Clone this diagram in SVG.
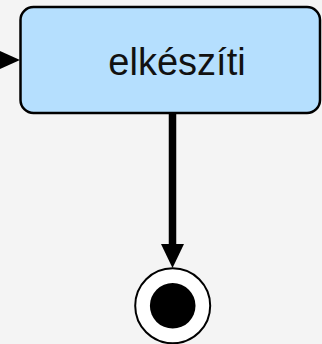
<svg xmlns="http://www.w3.org/2000/svg" width="322" height="344" viewBox="0 0 322 344">
<style>
.bg{fill:#f4f4f4}
.state{fill:#b5dffe;stroke:#000;stroke-width:2.5}
.label{font-family:"Liberation Sans",Arial,sans-serif;font-size:38px;fill:#111;text-anchor:middle}
.edge{stroke:#000;stroke-width:7.5;fill:none}
.head{fill:#000}
</style>
<rect class="bg" x="0" y="0" width="322" height="344"/>
<g id="connectors">
<path class="head" d="M0,51 L20,60 L0,69 Z"/>
<line class="edge" x1="172.5" y1="113" x2="172.5" y2="246"/>
<path class="head" d="M161,244 L184,244 L172.5,268 Z"/>
</g>
<g id="state-elkesziti">
<rect class="state" x="20.5" y="7" width="299.5" height="106" rx="13" ry="13"/>
<text class="label" x="177" y="75">elkészíti</text>
</g>
<g id="final-state">
<circle cx="172.7" cy="305.8" r="37.5" fill="#fff" stroke="#000" stroke-width="2"/>
<circle cx="172.7" cy="305.8" r="22.8" fill="#000"/>
</g>
</svg>
